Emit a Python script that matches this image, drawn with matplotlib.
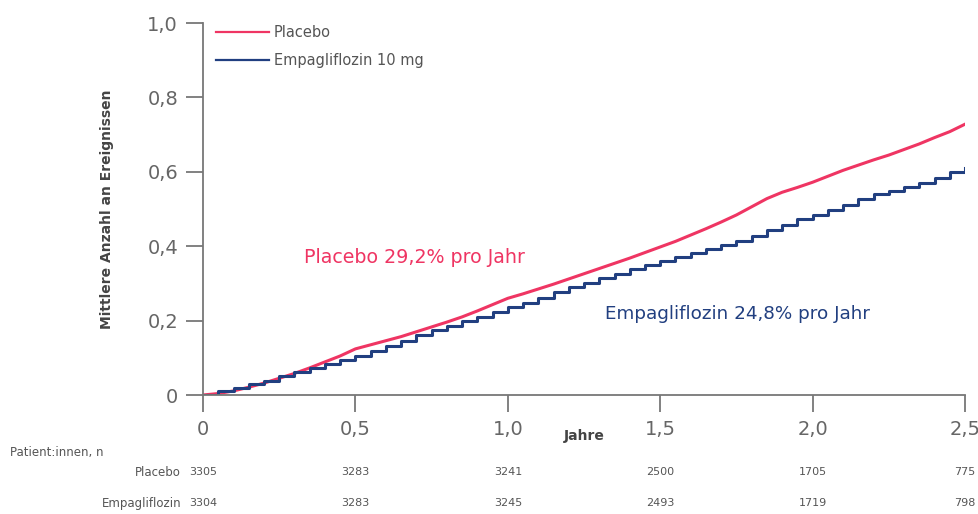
import matplotlib.pyplot as plt
import matplotlib.transforms as mtransforms
import numpy as np

plt.rcParams['font.family'] = ['DejaVu Sans']

# mean cumulative number of events, every 0.05 years
years = np.arange(0, 2.501, 0.05)
placebo = [0.000, 0.004, 0.011, 0.021, 0.032, 0.045, 0.058, 0.073, 0.089, 0.105,
           0.124, 0.135, 0.146, 0.157, 0.170, 0.183, 0.196, 0.210, 0.226, 0.243,
           0.260, 0.272, 0.285, 0.298, 0.312, 0.326, 0.340, 0.354, 0.368, 0.383,
           0.398, 0.413, 0.430, 0.447, 0.465, 0.484, 0.506, 0.528, 0.545, 0.558,
           0.572, 0.588, 0.604, 0.618, 0.632, 0.645, 0.660, 0.675, 0.692, 0.708,
           0.728]
empa = [0.000, 0.010, 0.020, 0.029, 0.039, 0.050, 0.061, 0.072, 0.083, 0.095,
        0.106, 0.119, 0.132, 0.145, 0.160, 0.174, 0.186, 0.198, 0.211, 0.224,
        0.236, 0.248, 0.262, 0.276, 0.290, 0.302, 0.314, 0.326, 0.338, 0.350,
        0.361, 0.372, 0.382, 0.392, 0.402, 0.413, 0.428, 0.443, 0.458, 0.472,
        0.485, 0.497, 0.512, 0.528, 0.540, 0.548, 0.558, 0.570, 0.584, 0.600,
        0.610]

# patients at risk
risk_years = [0, 0.5, 1.0, 1.5, 2.0, 2.5]
risk_placebo = [3305, 3283, 3241, 2500, 1705, 775]
risk_empa = [3304, 3283, 3245, 2493, 1719, 798]

xticks = [0, 0.5, 1.0, 1.5, 2.0, 2.5]
xticklabels = ['0', '0,5', '1,0', '1,5', '2,0', '2,5']
yticks = [0, 0.2, 0.4, 0.6, 0.8, 1.0]
yticklabels = ['0', '0,2', '0,4', '0,6', '0,8', '1,0']

pink = '#ef3563'
navy = '#213f80'
grey = '#777777'

fig = plt.figure(figsize=(9.79, 5.14), dpi=100)
ax = fig.add_axes([0.2074, 0.2315, 0.7783, 0.7237])

ax.plot(years, placebo, color=pink, lw=2.2, label='Placebo')
ax.plot(years, empa, color=navy, lw=2.2, drawstyle='steps-post', label='Empagliflozin 10 mg')

ax.set_xlim(0, 2.5)
ax.set_ylim(0, 1.0)
ax.set_xticks(xticks)
ax.set_xticklabels(xticklabels)
ax.set_yticks(yticks)
ax.set_yticklabels(yticklabels)
ax.tick_params(colors=grey, labelcolor='#666666', labelsize=14, length=12, width=1.3, pad=6)
for s in ['top', 'right']:
    ax.spines[s].set_visible(False)
for s in ['left', 'bottom']:
    ax.spines[s].set_color(grey)
    ax.spines[s].set_linewidth(1.3)

ax.set_ylabel('Mittlere Anzahl an Ereignissen', fontsize=10, fontweight='bold', color='#444444', labelpad=24)
ax.set_xlabel('Jahre', fontsize=10, fontweight='bold', color='#444444', labelpad=-7)

leg = ax.legend(loc='upper left', bbox_to_anchor=(0.0, 1.029), frameon=False, fontsize=10.5,
                handlelength=3.6, handletextpad=0.35, labelspacing=0.9)
for t in leg.get_texts():
    t.set_color('#555555')
for h in leg.get_lines():
    h.set_linewidth(1.6)

ax.text(0.695, 0.371, 'Placebo 29,2% pro Jahr', color=pink, fontsize=13.7, ha='center', va='center')
ax.text(1.755, 0.218, 'Empagliflozin 24,8% pro Jahr', color=navy, fontsize=13.2, ha='center', va='center')

# at-risk table
trans = mtransforms.blended_transform_factory(ax.transData, fig.transFigure)
fig.text(0.010, 0.120, 'Patient:innen, n', fontsize=8.5, color='#555555', va='center')
fig.text(0.185, 0.081, 'Placebo', fontsize=8.5, color='#555555', va='center', ha='right')
fig.text(0.185, 0.021, 'Empagliflozin', fontsize=8.5, color='#555555', va='center', ha='right')
for x, a, b in zip(risk_years, risk_placebo, risk_empa):
    ax.text(x, 0.081, str(a), transform=trans, fontsize=8, color='#555555', ha='center', va='center')
    ax.text(x, 0.021, str(b), transform=trans, fontsize=8, color='#555555', ha='center', va='center')

fig.savefig('out.png', dpi=100)
